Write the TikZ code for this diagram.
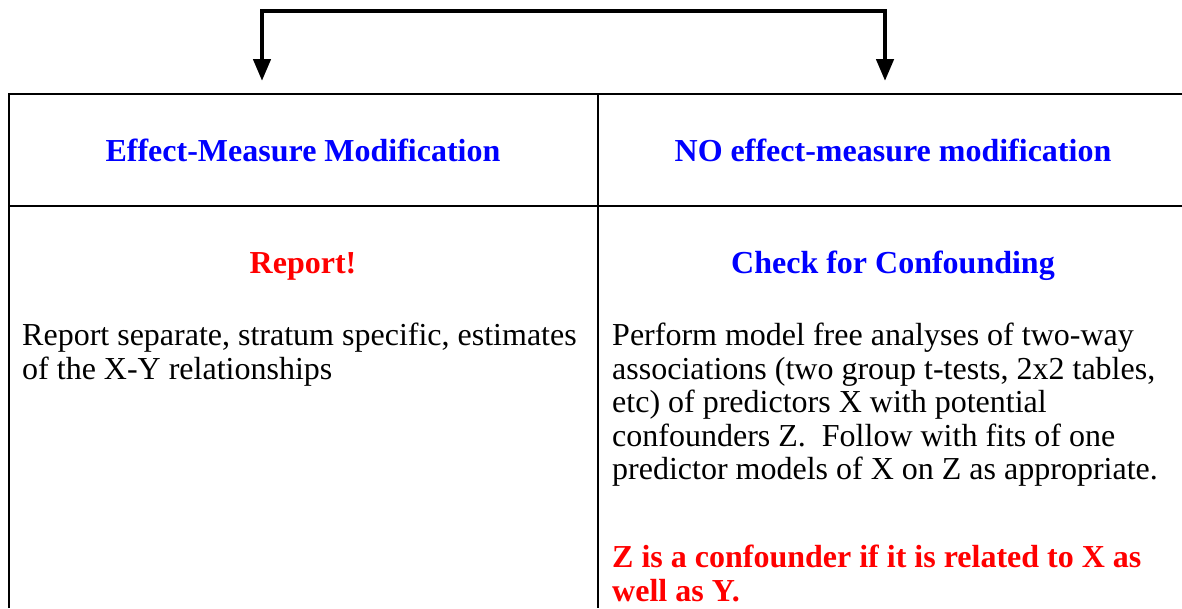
\documentclass[tikz,border=0pt]{standalone}
\usepackage{fontspec}
\setmainfont{Liberation Serif}
\usetikzlibrary{arrows.meta}
\tikzset{
  rule/.style={line width=2.2pt, black},
  flow/.style={line width=4.5pt, -{Triangle[width=17pt,length=22pt]}},
  head/.style={font=\fontsize{32}{33.5}\selectfont\bfseries, text=blue, inner sep=0pt, anchor=base},
  headred/.style={font=\fontsize{32}{33.5}\selectfont\bfseries, text=red, inner sep=0pt, anchor=base},
  body/.style={font=\fontsize{32}{33.5}\selectfont, align=left, inner sep=0pt, anchor=north west},
  bodyred/.style={font=\fontsize{32}{33.5}\selectfont\bfseries, text=red, align=left, inner sep=0pt, anchor=north west}
}
\begin{document}
\begin{tikzpicture}[x=1pt,y=-1pt]
\useasboundingbox (0,0) rectangle (1182,608);
% table rules
\draw[rule] (9,608) -- (9,94) -- (1182,94);
\draw[rule] (9,206) -- (1182,206);
\draw[rule] (598,94) -- (598,608);
% flow arrows
\coordinate (split) at (573,11);
\coordinate (tipL) at (262,81);
\coordinate (tipR) at (885,81);
\draw[flow] (split) -| (tipL);
\draw[flow] (split) -| (tipR);
% headers
\node[head] (emm) at (303,161) {Effect-Measure Modification};
\node[head] (noemm) at (893,161) {NO effect-measure modification};
\node[headred] (report) at (303,273) {Report!};
\node[head] (check) at (893,273) {Check for Confounding};
% bodies
\node[body] (repbody) at (22,323) {Report separate, stratum specific, estimates\\of the X-Y relationships};
\node[body] (chkbody) at (612,323) {Perform model free analyses of two-way\\associations (two group t-tests, 2x2 tables,\\etc) of predictors X with potential\\confounders Z.\ \ Follow with fits of one\\predictor models of X on Z as appropriate.};
\node[bodyred] (zconf) at (612,545) {Z is a confounder if it is related to X as\\well as Y.};
\end{tikzpicture}
\end{document}
